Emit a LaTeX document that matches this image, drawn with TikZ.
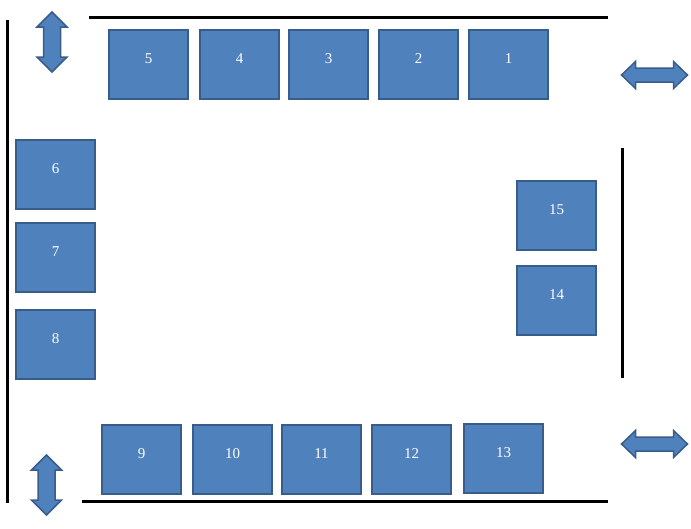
\documentclass[tikz,border=0pt]{standalone}
\usepackage{fontspec}
\setmainfont{Liberation Serif}
\definecolor{deskfill}{HTML}{4F81BD}
\definecolor{deskline}{HTML}{385D8A}
\tikzset{
  desk/.style={rectangle, draw=deskline, fill=deskfill, line width=1.5pt,
    minimum width=79pt, inner sep=0pt, text height=33pt, text depth=36pt,
    text=white, font=\fontsize{15}{17}\selectfont},
  wall/.style={line width=3pt},
  mover/.style={draw=deskline, fill=deskfill, line width=1.5pt, line join=miter}
}
\begin{document}
\begin{tikzpicture}[x=1pt, y=-1pt]
    \useasboundingbox (0,0) rectangle (691,528);

    % Walls
    \draw[wall] (89,17) -- (608,17);
    \draw[wall] (7,20) -- (7,503);
    \draw[wall] (82,501) -- (608,501);
    \draw[wall] (622,148) -- (622,378);

    % Desks (top row)
    \node[desk] (d1) at (508.5,64.5) {1};
    \node[desk] (d2) at (418.5,64.5) {2};
    \node[desk] (d3) at (328.5,64.5) {3};
    \node[desk] (d4) at (239.5,64.5) {4};
    \node[desk] (d5) at (148.5,64.5) {5};

    % Desks (left column)
    \node[desk] (d6) at (55.5,174.5) {6};
    \node[desk] (d7) at (55.5,257.5) {7};
    \node[desk] (d8) at (55.5,344.5) {8};

    % Desks (bottom row)
    \node[desk] (d9) at (141.5,459.5) {9};
    \node[desk] (d10) at (232.5,459.5) {10};
    \node[desk] (d11) at (321.5,459.5) {11};
    \node[desk] (d12) at (411.5,459.5) {12};
    \node[desk] (d13) at (503.5,458.5) {13};

    % Desks (right column)
    \node[desk] (d15) at (556.5,215.5) {15};
    \node[desk] (d14) at (556.5,300.5) {14};

    % Doors (double arrows)
    \draw[mover, shift={(52,42)}] (0,-30) -- (15,-15) -- (8.5,-15) -- (8.5,15) -- (15,15)
        -- (0,30) -- (-15,15) -- (-8.5,15) -- (-8.5,-15) -- (-15,-15) -- cycle;
    \draw[mover, shift={(46.5,485)}] (0,-30) -- (15,-15) -- (8.5,-15) -- (8.5,15) -- (15,15)
        -- (0,30) -- (-15,15) -- (-8.5,15) -- (-8.5,-15) -- (-15,-15) -- cycle;
    \draw[mover, shift={(654.5,75)}] (-33,0) -- (-19,-13.5) -- (-19,-7) -- (19,-7) -- (19,-13.5)
        -- (33,0) -- (19,13.5) -- (19,7) -- (-19,7) -- (-19,13.5) -- cycle;
    \draw[mover, shift={(654.5,444)}] (-33,0) -- (-19,-13.5) -- (-19,-7) -- (19,-7) -- (19,-13.5)
        -- (33,0) -- (19,13.5) -- (19,7) -- (-19,7) -- (-19,13.5) -- cycle;
\end{tikzpicture}
\end{document}
